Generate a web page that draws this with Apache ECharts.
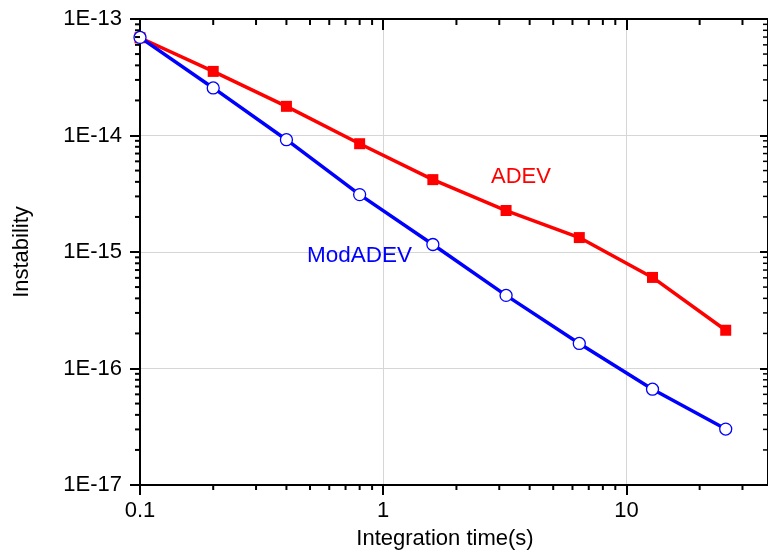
<!DOCTYPE html>
<html>
<head>
<meta charset="utf-8">
<script src="https://cdn.jsdelivr.net/npm/echarts@6/dist/echarts.min.js"></script>
<style>
html,body{margin:0;padding:0;background:#fff;}
#c{width:768px;height:555px;}
</style>
</head>
<body>
<div id="c"></div>
<script>
// ---- data ----
var tau = [0.1, 0.2, 0.4, 0.8, 1.6, 3.2, 6.4, 12.8, 25.6];
var adev = [6.9e-14, 3.55e-14, 1.78e-14, 8.5e-15, 4.18e-15, 2.27e-15, 1.33e-15, 6.05e-16, 2.13e-16];
var modadev = [6.95e-14, 2.56e-14, 9.2e-15, 3.11e-15, 1.16e-15, 4.24e-16, 1.64e-16, 6.64e-17, 3.02e-17];
var xMinorTicks = [0.2,0.3,0.4,0.5,0.6,0.7,0.8,0.9,2,3,4,5,6,7,8,9,20,30];
var yMinorTicks = [];
var yDecades = [1e-17, 1e-16, 1e-15, 1e-14];
var minorMult = [2,3,4,5,6,7,8,9];
yDecades.forEach(function(d){ minorMult.forEach(function(m){ yMinorTicks.push(Number((m*d).toPrecision(3))); }); });
var xMin = 0.1, xMax = 38.2, yMin = 1e-17, yMax = 1e-13;
var xTitle = 'Integration time(s)';
var yTitle = 'Instability';
var labelA = 'ADEV', labelB = 'ModADEV';

var FONT = 'Liberation Sans, Arial, sans-serif';
var chart = echarts.init(document.getElementById('c'), null, {renderer: 'canvas'});

function xLab(v){ return String(Number(v.toPrecision(6))); }
function yLab(v){ return '1E' + Math.round(Math.log10(v)); }

var axisLineStyle = {color: '#000', width: 2};
var tickStyle = {color: '#000', width: 2};

var option = {
  animation: false,
  backgroundColor: '#fff',
  grid: {left: 140, right: -2, top: 19, bottom: 69, containLabel: false},
  xAxis: [{
    type: 'log', logBase: 10, min: xMin, max: xMax, interval: 1, position: 'bottom',
    axisLine: {show: true, lineStyle: axisLineStyle},
    axisTick: {show: true, inside: false, length: 10, lineStyle: tickStyle},
    axisLabel: {show: true, formatter: xLab, fontFamily: FONT, fontSize: 22, color: '#000', margin: 15, showMaxLabel: false},
    splitLine: {show: true, lineStyle: {color: '#d6d6d6', width: 1}},
    name: xTitle, nameLocation: 'middle', nameGap: 43,
    nameTextStyle: {fontFamily: FONT, fontSize: 22, color: '#000', padding: [0, 18, 0, 0]}
  }, {
    type: 'log', logBase: 10, min: xMin, max: xMax, interval: 1, position: 'top',
    axisLine: {show: true, lineStyle: axisLineStyle},
    axisTick: {show: true, inside: true, length: 11, lineStyle: tickStyle},
    axisLabel: {show: false},
    splitLine: {show: false}
  }],
  yAxis: [{
    type: 'log', logBase: 10, min: yMin, max: yMax, interval: 1, position: 'left',
    axisLine: {show: true, lineStyle: axisLineStyle},
    axisTick: {show: true, inside: false, length: 10, lineStyle: tickStyle},
    axisLabel: {show: true, formatter: yLab, fontFamily: FONT, fontSize: 22, color: '#000', margin: 18},
    splitLine: {show: true, lineStyle: {color: '#d6d6d6', width: 1}},
    name: yTitle, nameLocation: 'middle', nameGap: 107, nameRotate: 90,
    nameTextStyle: {fontFamily: FONT, fontSize: 22, color: '#000'}
  }, {
    type: 'log', logBase: 10, min: yMin, max: yMax, interval: 1, position: 'right',
    axisLine: {show: true, lineStyle: axisLineStyle},
    axisTick: {show: true, inside: true, length: 8, lineStyle: tickStyle},
    axisLabel: {show: false},
    splitLine: {show: false}
  }],
  series: [
    {
      type: 'custom', name: 'xminor', xAxisIndex: 0, yAxisIndex: 0, z: 10, silent: true, clip: false,
      data: xMinorTicks.map(function(v){ return [v, yMin]; }),
      renderItem: function(params, api){
        var b = api.coord([api.value(0), yMin]);
        var t = api.coord([api.value(0), yMax]);
        return {type: 'group', children: [
          {type: 'line', shape: {x1: b[0], y1: b[1], x2: b[0], y2: b[1] + 5}, style: {stroke: '#000', lineWidth: 2}},
          {type: 'line', shape: {x1: t[0], y1: t[1], x2: t[0], y2: t[1] + 6}, style: {stroke: '#000', lineWidth: 2}}
        ]};
      }
    },
    {
      type: 'custom', name: 'yminor', xAxisIndex: 0, yAxisIndex: 0, z: 10, silent: true, clip: false,
      data: yMinorTicks.map(function(v){ return [xMin, v]; }),
      renderItem: function(params, api){
        var l = api.coord([xMin, api.value(1)]);
        var r = api.coord([xMax, api.value(1)]);
        return {type: 'group', children: [
          {type: 'line', shape: {x1: l[0], y1: l[1], x2: l[0] - 5, y2: l[1]}, style: {stroke: '#000', lineWidth: 2}},
          {type: 'line', shape: {x1: r[0], y1: r[1], x2: r[0] - 5, y2: r[1]}, style: {stroke: '#000', lineWidth: 1.5}}
        ]};
      }
    },
    {
      type: 'line', name: labelA, xAxisIndex: 0, yAxisIndex: 0, z: 3,
      data: tau.map(function(t, i){ return [t, adev[i]]; }),
      lineStyle: {color: '#ff0000', width: 3.5},
      itemStyle: {color: '#ff0000'},
      symbol: 'rect', symbolSize: 11, showAllSymbol: true, clip: false
    },
    {
      type: 'line', name: labelB, xAxisIndex: 0, yAxisIndex: 0, z: 4,
      data: tau.map(function(t, i){ return [t, modadev[i]]; }),
      lineStyle: {color: '#0000ff', width: 3.5},
      itemStyle: {color: '#ffffff', borderColor: '#0000ff', borderWidth: 1.3},
      symbol: 'circle', symbolSize: 12, showAllSymbol: true, clip: false
    }
  ],
  graphic: [
    {type: 'text', left: 491, top: 166, z: 20, style: {text: labelA, fill: '#ff0000', font: '22px ' + FONT}},
    {type: 'text', left: 307, top: 244, z: 20, style: {text: labelB, fill: '#0000ff', font: '22.5px ' + FONT}}
  ]
};
chart.setOption(option);
</script>
</body>
</html>
